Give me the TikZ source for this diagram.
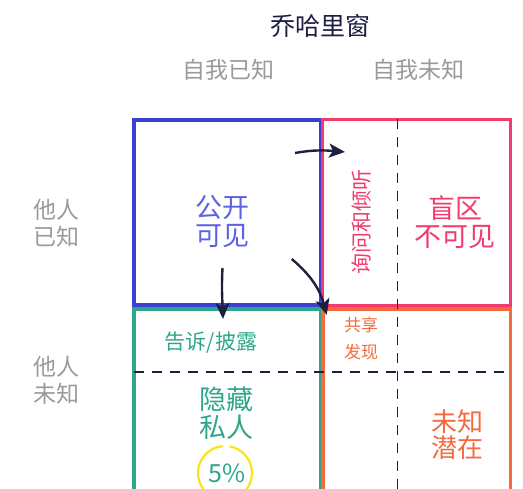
\documentclass[tikz,border=0pt]{standalone}
\usepackage{fontspec}
\newfontfamily\cjk{Noto Sans CJK SC}
\usetikzlibrary{positioning, arrows.meta, calc}

\definecolor{navy}{HTML}{1E1E40}
\definecolor{labelgray}{HTML}{9A9A9A}
\definecolor{openblue}{HTML}{3A40D2}
\definecolor{opentext}{HTML}{5A63E6}
\definecolor{blindpink}{HTML}{F23A6E}
\definecolor{hidegreen}{HTML}{2EA68A}
\definecolor{unkorange}{HTML}{F46A3E}
\definecolor{ringyellow}{HTML}{F7E51C}

\begin{document}
\begin{tikzpicture}[
    x=1pt, y=1pt,
    every node/.style={font=\cjk, inner sep=0pt},
    pane/.style={rectangle, draw, line width=3.2pt, minimum width=187pt},
    split/.style={dashed, dash pattern=on 10pt off 8pt, line width=1.8pt, color=navy},
    arrow/.style={-{Stealth[length=16pt, width=14pt, inset=4pt]}, line width=2.4pt, color=navy},
    axislabel/.style={color=labelgray, align=center, font=\cjk\fontsize{23}{27}\selectfont},
    bigword/.style={align=center, font=\cjk\fontsize{27}{28}\selectfont}
]
\useasboundingbox (0,0) rectangle (523,489);
\clip (0,0) rectangle (523,489);

% Four panes
\node[pane, draw=openblue, minimum height=185pt] (open) at (227.5,276.5) {};
\node[pane, draw=blindpink, minimum width=188pt, minimum height=186pt] (blind) at (416.5,276.5) {};
\node[pane, draw=hidegreen, minimum height=210pt] (hidden) at (227.5,75) {};
\node[pane, draw=unkorange, minimum width=187.5pt, minimum height=210pt] (unknown) at (416.75,75) {};

% Dashed dividers
\coordinate (vtop) at (397.5,369.5);
\coordinate (vbot) at (397.5,-10);
\coordinate (hleft) at (134,117);
\coordinate (hright) at (510.5,117);
\draw[split] (vtop) -- (vbot);
\draw[split] (hleft) -- (hright);

% Title and axis labels
\node[color=navy, font=\cjk\fontsize{25}{27}\selectfont] (title) at (320,463) {乔哈里窗};
\node[axislabel] (selfknown) at (228,419) {自我已知};
\node[axislabel] (selfunknown) at (418,419) {自我未知};
\node[axislabel] (othersknown) at (57,266) {他人\\已知};
\node[axislabel] (othersunknown) at (57,109) {他人\\未知};

% Pane texts
\node[bigword, color=opentext] (opentxt) at (222,267) {公开\\可见};
\node[color=blindpink, rotate=90, font=\cjk\fontsize{21}{24}\selectfont] (ask) at (362,267) {询问和倾听};
\node[bigword, color=blindpink] (blindtxt) at (455,267) {盲区\\不可见};
\node[color=hidegreen, font=\cjk\fontsize{21}{24}\selectfont] (tell) at (211,146) {告诉/披露};
\node[color=unkorange, align=center, font=\cjk\fontsize{17}{27}\selectfont] (share) at (361,150) {共享\\发现};
\node[bigword, color=hidegreen] (hiddentxt) at (226,76) {隐藏\\私人};
\node[color=hidegreen, font=\cjk\fontsize{25}{27}\selectfont] (pct) at (227,16) {5\%};
\node[bigword, color=unkorange, font=\cjk\fontsize{26}{26}\selectfont] (unknowntxt) at (457,54) {未知\\潜在};

% Yellow ring round the percentage
\draw[ringyellow, line width=2.2pt] (pct.center) ++(-2,0) ++(95:27) arc[start angle=95, end angle=440, radius=27];

% Arrows
\coordinate (a1s) at (295,336);
\coordinate (a1e) at (345,337);
\coordinate (a2s) at (222.5,221);
\coordinate (a2e) at (223,170);
\coordinate (a3s) at (291.7,230);
\coordinate (a3e) at (326.7,174);
\draw[arrow] (a1s) to[out=10, in=175] (a1e);
\draw[arrow] (a2s) to[out=-93, in=92] (a2e);
\draw[arrow] (a3s) to[out=-40, in=105] (a3e);

\end{tikzpicture}
\end{document}
